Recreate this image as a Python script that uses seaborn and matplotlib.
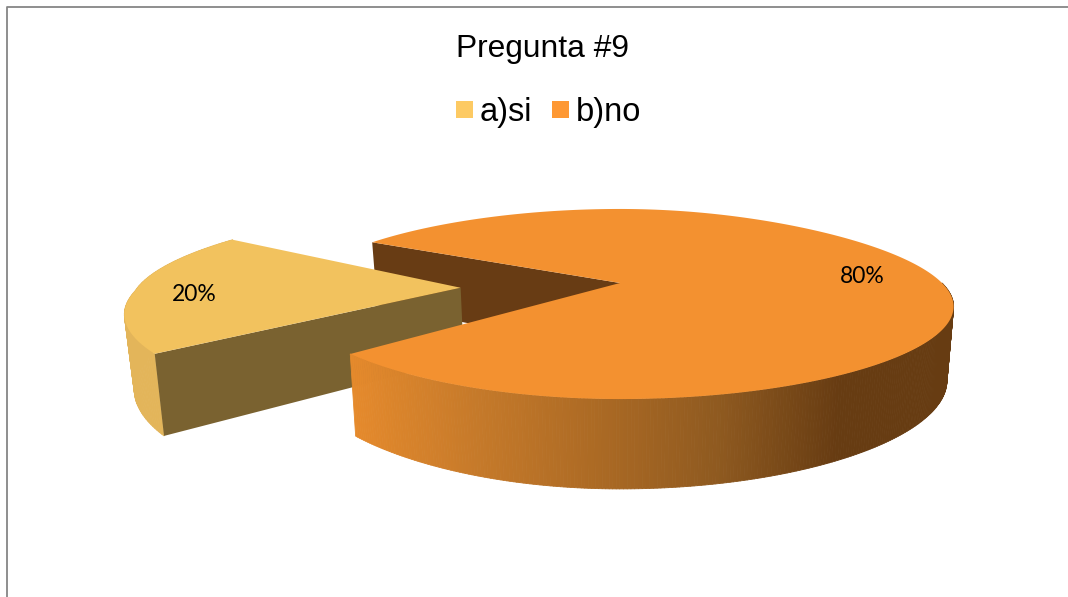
import numpy as np
import matplotlib
matplotlib.use("Agg")
import matplotlib.pyplot as plt
from matplotlib.collections import PolyCollection
from matplotlib.patches import Polygon, Rectangle
import seaborn as sns

# data
categories = ["a)si", "b)no"]
values = [20, 80]
percent_labels = ["20%", "80%"]
title = "Pregunta #9"

# style
TOP_COLORS = ["#f2c25e", "#f39130"]
LEGEND_COLORS = ["#fdca63", "#fe9833"]
SIDE_YELLOW = "#e3b55a"
CUT_YELLOW = "#7a6230"
CUT_ORANGE = "#683c14"
GRADIENT_STOPS = ["#e58a2c", "#c67a2a", "#ac6a24", "#8f5a20", "#673c12"]
START_DEG = 150
EXPLODE = 0.497
YELLOW_ROT = -4
YELLOW_FLARE = 0.05
CX, CY = 620, 283
RX_LEFT, RX_RIGHT, RY, KY = 319, 322, 90.4, 0.221
KX_LEFT, KX_RIGHT = 0.206, 0.28
H = 70
BOTTOM_X = 0.98
GRAD_X0, GRAD_X1 = 350, 838

sns.set_theme(style="white")
plt.rcParams["font.family"] = ["Liberation Sans", "DejaVu Sans"]


def proj(X, Y, bottom=False):
    X, Y = np.asarray(X, float), np.asarray(Y, float)
    s = 1 / (1 + KY * Y)
    left = X < 0
    x = np.where(left, RX_LEFT, RX_RIGHT) * X * (1 - np.where(left, KX_LEFT, KX_RIGHT) * Y)
    y = CY - RY * Y * s
    if bottom:
        x = x * BOTTOM_X
        y = y + H * s
    return np.column_stack([CX + x, y])


def strips(top, bot):
    return [[top[i], top[i + 1], bot[i + 1], bot[i]] for i in range(len(top) - 1)]


fig = plt.figure(figsize=(10.68, 5.97), dpi=100)
ax = fig.add_axes([0, 0, 1, 1])
ax.set_xlim(0, 1068)
ax.set_ylim(597, 0)
ax.axis("off")

# frame: left and top only reach the picture
ax.plot([7, 7, 1068], [597, 7, 7], color="#868686", lw=1.3, zorder=0)

fracs = np.array(values) / sum(values) * 360
t0a, t1a = START_DEG, START_DEG + fracs[0]
t0b, t1b = t1a, t1a + fracs[1]

# orange back cut face
tb = np.radians(t1b)
pts = np.vstack([proj([0], [0]), proj([np.cos(tb)], [np.sin(tb)]),
                 proj([np.cos(tb)], [np.sin(tb)], True), proj([0], [0], True)])
ax.add_patch(Polygon(pts, fc=CUT_ORANGE, ec="none", zorder=1))

# yellow slice, exploded along its middle angle
tm = np.radians((t0a + t1a) / 2)
dx, dy = EXPLODE * np.cos(tm), EXPLODE * np.sin(tm)
u = np.linspace(0, 1, 80)
ta = np.radians(t0a + YELLOW_ROT + u * (t1a - t0a))
r = 1 + YELLOW_FLARE * np.clip(1 - 2 * u, 0, 1)
X, Y = r * np.cos(ta) + dx, r * np.sin(ta) + dy
rim_top, rim_bot = proj(X, Y), proj(X, Y, True)
ax.add_collection(PolyCollection(strips(rim_top, rim_bot), facecolors=SIDE_YELLOW,
                                 edgecolors=SIDE_YELLOW, linewidths=0.6, zorder=2))
apex_t, apex_b = proj([dx], [dy]), proj([dx], [dy], True)
ax.add_patch(Polygon(np.vstack([apex_t, rim_top[-1:], rim_bot[-1:], apex_b]),
                     fc=CUT_YELLOW, ec="none", zorder=3))
ax.add_patch(Polygon(np.vstack([apex_t, rim_top]), fc=TOP_COLORS[0], ec="none", zorder=4))

# orange slice: front wall as a gradient of thin strips, then the top
tb = np.radians(np.linspace(t0b, 360, 260))
rim_t, rim_b = proj(np.cos(tb), np.sin(tb)), proj(np.cos(tb), np.sin(tb), True)
pal = sns.blend_palette(GRADIENT_STOPS, 256)
cols = []
for i in range(len(tb) - 1):
    f = np.clip((rim_t[i, 0] - GRAD_X0) / (GRAD_X1 - GRAD_X0), 0, 1)
    cols.append(pal[int(f * 255)])
ax.add_collection(PolyCollection(strips(rim_t, rim_b), facecolors=cols, edgecolors=cols,
                                 linewidths=0.6, zorder=5))
tt = np.radians(np.linspace(t0b, t1b, 400))
ax.add_patch(Polygon(np.vstack([proj([0], [0]), proj(np.cos(tt), np.sin(tt))]),
                     fc=TOP_COLORS[1], ec="none", zorder=6))

# texts
ax.text(456, 57, title, ha="left", va="baseline", fontsize=22.9, color="#000000", zorder=7)
for x_box, x_txt, c, col in zip([456, 552], [480, 576], categories, LEGEND_COLORS):
    ax.add_patch(Rectangle((x_box, 101), 17, 17, fc=col, ec="none", zorder=7))
    ax.text(x_txt, 121, c, ha="left", va="baseline", fontsize=23.5, color="#000000", zorder=7)
for (lx, ly), lab in zip([(194.5, 301), (862.5, 283)], percent_labels):
    ax.text(lx, ly, lab, ha="center", va="baseline", fontsize=16.5, family="Lato", color="#000000", zorder=8)

fig.savefig("out.png", dpi=100, facecolor="white")
